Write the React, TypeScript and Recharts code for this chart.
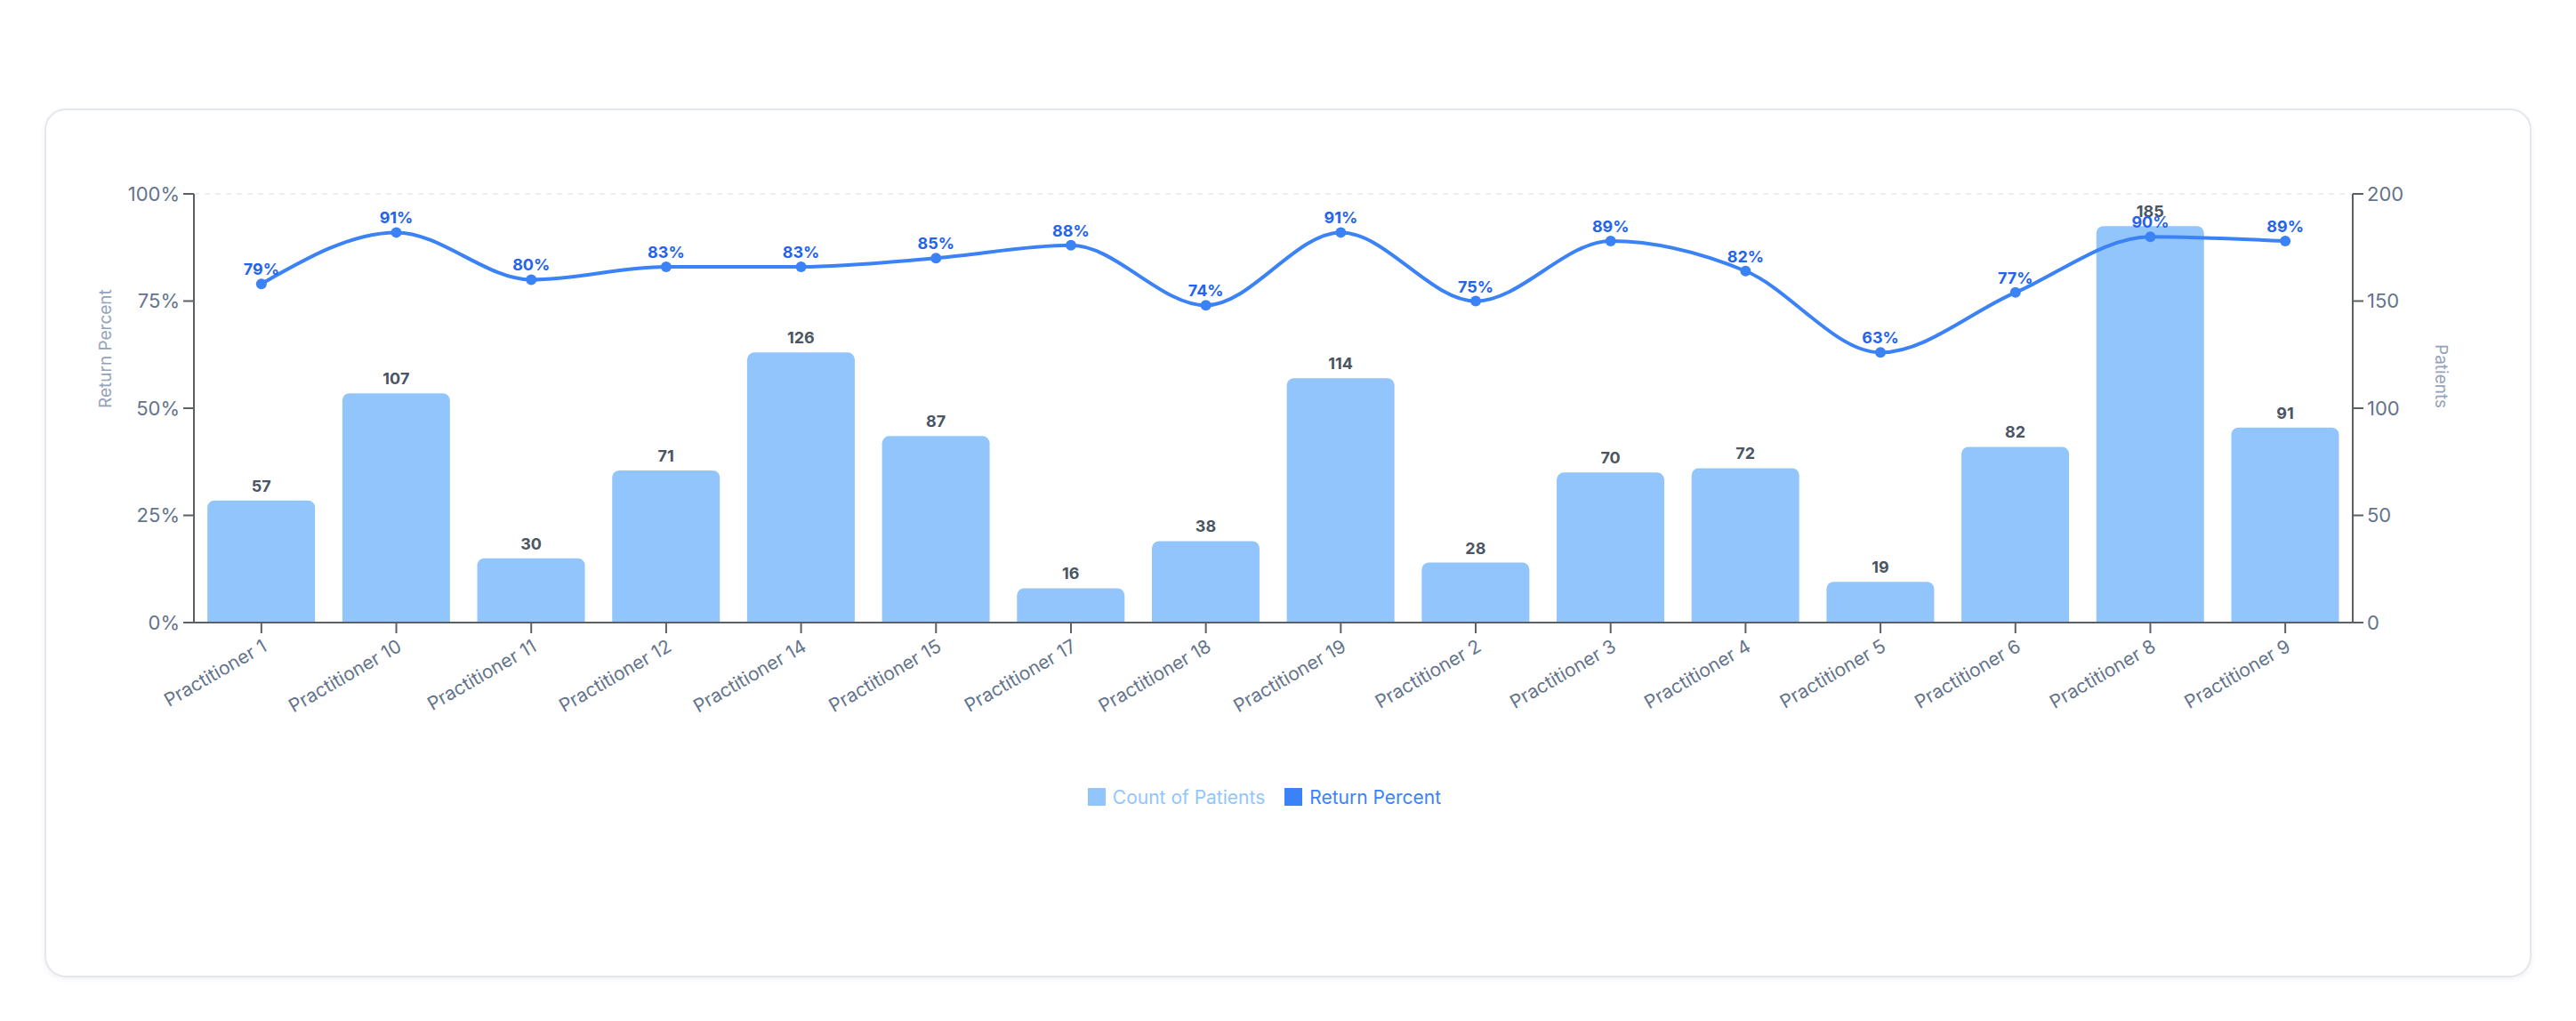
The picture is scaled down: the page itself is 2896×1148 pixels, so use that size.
import React from "react";
import {
  ComposedChart,
  Bar,
  Line,
  XAxis,
  YAxis,
  Legend,
  LabelList,
  ReferenceLine,
} from "recharts";

const practitioners = [
  "Practitioner 1",
  "Practitioner 10",
  "Practitioner 11",
  "Practitioner 12",
  "Practitioner 14",
  "Practitioner 15",
  "Practitioner 17",
  "Practitioner 18",
  "Practitioner 19",
  "Practitioner 2",
  "Practitioner 3",
  "Practitioner 4",
  "Practitioner 5",
  "Practitioner 6",
  "Practitioner 8",
  "Practitioner 9",
];
const patientCounts = [57, 107, 30, 71, 126, 87, 16, 38, 114, 28, 70, 72, 19, 82, 185, 91];
const returnPercents = [79, 91, 80, 83, 83, 85, 88, 74, 91, 75, 89, 82, 63, 77, 90, 89];
const percentTicks = [0, 25, 50, 75, 100];
const patientTicks = [0, 50, 100, 150, 200];

const data = practitioners.map((name, i) => ({
  name,
  patients: patientCounts[i],
  returnPercent: returnPercents[i],
}));

const AXIS = "#5b5f66";
const TICK = "#64748b";
const FONT = "Inter, 'Noto Sans', sans-serif";

function LegendContent(props: any) {
  const items = props.payload || [];
  return (
    <div
      style={{
        height: 30,
        display: "flex",
        justifyContent: "center",
        alignItems: "center",
        fontFamily: FONT,
        fontSize: 21,
      }}
    >
      {items.map((it: any, i: number) => (
        <div
          key={i}
          style={{ display: "flex", alignItems: "center", marginRight: i < items.length - 1 ? 22 : 0 }}
        >
          <span style={{ width: 20, height: 20, background: it.color, marginRight: 8, display: "inline-block" }} />
          <span style={{ color: it.color }}>{it.value}</span>
        </div>
      ))}
    </div>
  );
}

export default function App() {
  return (
    <div style={{ position: "absolute", left: 0, top: 0, width: 2896, height: 1148, background: "#fff" }}>
      {/* card */}
      <div
        style={{
          position: "absolute",
          left: 50,
          top: 122,
          width: 2796,
          height: 977,
          boxSizing: "border-box",
          border: "2px solid #e4e8ee",
          borderRadius: 24,
          boxShadow: "0 2px 6px rgba(15, 23, 42, 0.06)",
          background: "#fff",
        }}
      />
      <div style={{ position: "absolute", left: 0, top: 0 }}>
        <ComposedChart
          width={2896}
          height={1148}
          data={data}
          margin={{ top: 218, right: 131, left: 98, bottom: 237 }}
          style={{ fontFamily: FONT }}
        >
          <XAxis
            dataKey="name"
            interval={0}
            height={181}
            tickSize={12}
            tickMargin={6}
            axisLine={{ stroke: AXIS, strokeWidth: 2 }}
            tickLine={{ stroke: AXIS, strokeWidth: 2 }}
            tick={{ fill: TICK, fontSize: 21, angle: -30, textAnchor: "end" }}
          />
          <YAxis
            yAxisId="pct"
            width={120}
            domain={[0, 100]}
            ticks={percentTicks}
            tickFormatter={(v) => `${v}%`}
            tickSize={12}
            tickMargin={4}
            axisLine={{ stroke: AXIS, strokeWidth: 2 }}
            tickLine={{ stroke: AXIS, strokeWidth: 2 }}
            tick={{ fill: TICK, fontSize: 22 }}
            label={{
              value: "Return Percent",
              angle: -90,
              position: "insideLeft",
              offset: 20,
              fill: "#94a3b8",
              fontSize: 19,
            }}
          />
          <YAxis
            yAxisId="patients"
            orientation="right"
            width={120}
            domain={[0, 200]}
            ticks={patientTicks}
            tickSize={12}
            tickMargin={4}
            axisLine={{ stroke: AXIS, strokeWidth: 2 }}
            tickLine={{ stroke: AXIS, strokeWidth: 2 }}
            tick={{ fill: TICK, fontSize: 22 }}
            label={{
              value: "Patients",
              angle: 90,
              position: "insideRight",
              offset: 20,
              fill: "#94a3b8",
              fontSize: 19,
            }}
          />
          <ReferenceLine yAxisId="pct" y={100} stroke="#eceef2" strokeWidth={2} strokeDasharray="6 6" />
          <Legend
            verticalAlign="bottom"
            content={LegendContent}
            wrapperStyle={{ left: 98, width: 2647, bottom: 237, height: 30 }}
          />
          <Bar
            yAxisId="patients"
            dataKey="patients"
            name="Count of Patients"
            fill="#93c5fd"
            radius={[8, 8, 0, 0]}
            isAnimationActive={false}
          >
            <LabelList
              dataKey="patients"
              position="top"
              offset={10}
              fill="#4b5563"
              fontSize={18}
              fontWeight={700}
            />
          </Bar>
          <Line
            yAxisId="pct"
            type="monotone"
            dataKey="returnPercent"
            name="Return Percent"
            stroke="#3b82f6"
            strokeWidth={4}
            dot={{ r: 6, fill: "#3b82f6", stroke: "#3b82f6", strokeWidth: 0 }}
            activeDot={false}
            isAnimationActive={false}
          >
            <LabelList
              dataKey="returnPercent"
              position="top"
              offset={10}
              formatter={(v: any) => `${v}%`}
              fill="#2563eb"
              fontSize={18}
              fontWeight={700}
            />
          </Line>
        </ComposedChart>
      </div>
    </div>
  );
}
